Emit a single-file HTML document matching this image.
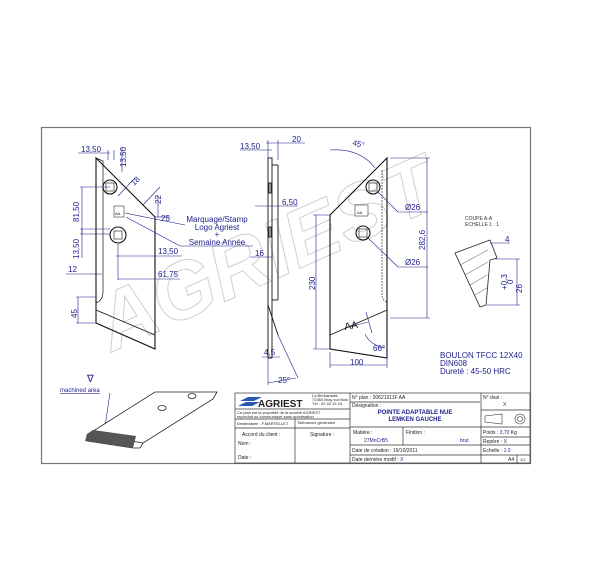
<!DOCTYPE html>
<html><head><meta charset="utf-8"><style>
html,body{margin:0;padding:0;background:#fff;width:600px;height:588px;overflow:hidden}
svg{display:block}
text{font-family:"Liberation Sans",sans-serif}
.d{fill:#1c1c8a;font-size:8px}
.t{fill:#1c1c8a;font-size:4px}
.k{fill:#222;font-size:4px}
</style></head><body>
<svg width="600" height="588" viewBox="0 0 600 588" xmlns="http://www.w3.org/2000/svg">
<rect x="41.5" y="127.5" width="489" height="336" fill="none" stroke="#777" stroke-width="1.2"/>
<!-- watermark -->
<text x="112" y="352" transform="rotate(-24 112 352)" font-size="80" font-style="italic" font-weight="bold" fill="none" stroke="#cfcfcf" stroke-width="1" letter-spacing="1">AGRIEST</text>

<!-- LEFT VIEW -->
<g stroke="#111" fill="none" stroke-width="1.1">
<polygon points="96,158 155,217 155,349 96,323"/>
<path d="M96,158 L103,161 L103,292 Q103,300 96,303" stroke-width="0.7"/>
<line x1="96" y1="310" x2="155" y2="335" stroke-width="0.8"/>
<circle cx="110" cy="187" r="7"/><rect x="106" y="183" width="8" height="8" stroke-width="0.6"/>
<circle cx="118" cy="235" r="8"/><rect x="114" y="231" width="8" height="8" stroke-width="0.6"/>
</g>
<rect x="114" y="206" width="10" height="11" fill="#fff" stroke="#333" stroke-width="0.6"/>
<text x="115" y="215" font-size="4" fill="#111">AA</text>
<g stroke="#1c1c8a" fill="none" stroke-width="0.6">
<line x1="78" y1="153" x2="110" y2="153"/><line x1="108" y1="150" x2="108" y2="160"/><line x1="114" y1="150" x2="114" y2="160"/>
<line x1="122" y1="148" x2="122" y2="172"/>
<line x1="118" y1="196" x2="135" y2="178"/><line x1="143" y1="205" x2="160" y2="187"/>
<line x1="155" y1="217" x2="170" y2="217"/><line x1="158" y1="195" x2="158" y2="217"/>
<line x1="125" y1="213" x2="185" y2="225"/>
<line x1="126" y1="217" x2="180" y2="246"/><line x1="180" y1="246" x2="253" y2="246"/>
<line x1="80" y1="187" x2="110" y2="187"/><line x1="80" y1="234" x2="110" y2="234"/><line x1="82" y1="187" x2="82" y2="234"/>
<line x1="80" y1="229" x2="110" y2="229"/><line x1="82" y1="229" x2="82" y2="258"/>
<line x1="66" y1="274" x2="102" y2="274"/>
<line x1="116" y1="256" x2="182" y2="256"/><line x1="118" y1="244" x2="118" y2="280"/>
<line x1="118" y1="279" x2="180" y2="279"/>
<line x1="76" y1="297" x2="96" y2="297"/><line x1="76" y1="323" x2="96" y2="323"/><line x1="78" y1="297" x2="78" y2="323"/>
</g>
<text class="d" x="81" y="152">13,50</text>
<text class="d" transform="translate(126,167) rotate(-90)">13,50</text>
<text class="d" transform="translate(134,186) rotate(-45)">18</text>
<text class="d" transform="translate(161,204) rotate(-90)">22</text>
<text class="d" x="161" y="221">25</text>
<text class="d" transform="translate(79,222) rotate(-90)">81,50</text>
<text class="d" transform="translate(79,259) rotate(-90)">13,50</text>
<text class="d" x="68" y="272">12</text>
<text class="d" transform="translate(77,318) rotate(-90)">45</text>
<text class="d" x="158" y="254">13,50</text>
<text class="d" x="158" y="277">61,75</text>
<text class="d" x="217" y="222" text-anchor="middle">Marquage/Stamp</text>
<text class="d" x="217" y="230" text-anchor="middle">Logo Agriest</text>
<text class="d" x="217" y="237" text-anchor="middle">+</text>
<text class="d" x="217" y="245" text-anchor="middle">Semaine Année</text>

<!-- SIDE VIEW -->
<g stroke="#111" fill="none" stroke-width="0.9">
<rect x="268" y="158" width="4" height="200"/>
<line x1="272" y1="165" x2="278" y2="165"/><line x1="278" y1="165" x2="278" y2="300"/><line x1="272" y1="300" x2="278" y2="300"/>
<rect x="269" y="183" width="2" height="10"/><rect x="269" y="227" width="2" height="10"/>
<line x1="268" y1="305" x2="278" y2="335"/>
</g>
<g stroke="#1c1c8a" fill="none" stroke-width="0.6">
<line x1="268" y1="140" x2="268" y2="158"/><line x1="278" y1="140" x2="278" y2="160"/><line x1="266" y1="143" x2="305" y2="143"/>
<line x1="240" y1="150" x2="272" y2="150"/>
<line x1="255" y1="206" x2="298" y2="206"/><line x1="250" y1="257" x2="272" y2="257"/>
<line x1="262" y1="357" x2="280" y2="357"/>
<line x1="268" y1="358" x2="268" y2="385"/><line x1="268" y1="383" x2="296" y2="378"/><line x1="278" y1="335" x2="298" y2="378"/>
</g>
<text class="d" x="292" y="142">20</text>
<text class="d" x="240" y="149">13,50</text>
<text class="d" x="282" y="205">6,50</text>
<text class="d" x="255" y="256">16</text>
<text class="d" x="264" y="355">4,5</text>
<text class="d" x="278" y="383">25°</text>

<!-- RIGHT VIEW -->
<g stroke="#111" fill="none" stroke-width="1.1">
<polygon points="330,215 387,158 387,358 330,349"/>
<path d="M382,170 L382,295 Q382,300 387,302" stroke-width="0.6" stroke-dasharray="2,1"/>
<line x1="330" y1="335" x2="387" y2="310" stroke-width="0.8"/>
<circle cx="373" cy="187" r="7"/><rect x="369" y="183" width="8" height="8" stroke-width="0.6"/>
<circle cx="363" cy="233" r="7"/><rect x="359" y="229" width="8" height="8" stroke-width="0.6"/>
</g>
<rect x="355" y="205" width="13" height="11" fill="#fff" stroke="#333" stroke-width="0.6"/>
<text x="357" y="214" font-size="4" fill="#111">AA</text>
<g stroke="#1c1c8a" fill="none" stroke-width="0.6">
<path d="M330,150 Q360,148 375,168"/>
<line x1="378" y1="192" x2="398" y2="212"/><line x1="398" y1="212" x2="428" y2="212"/>
<line x1="367" y1="237" x2="398" y2="267"/><line x1="398" y1="267" x2="428" y2="267"/>
<line x1="390" y1="158" x2="430" y2="158"/><line x1="390" y1="318" x2="430" y2="318"/><line x1="427" y1="158" x2="427" y2="318"/>
<line x1="313" y1="215" x2="330" y2="215"/><line x1="313" y1="349" x2="330" y2="349"/><line x1="316" y1="215" x2="316" y2="349"/>
<line x1="330" y1="352" x2="330" y2="368"/><line x1="387" y1="352" x2="387" y2="368"/><line x1="330" y1="365" x2="387" y2="365"/>
<line x1="345" y1="328" x2="368" y2="322"/><line x1="366" y1="312" x2="372" y2="333"/>
<path d="M365,334 Q370,345 385,348"/>
</g>
<text class="d" x="352" y="145" transform="rotate(15 352 145)">45°</text>
<text class="d" x="405" y="210">Ø26</text>
<text class="d" x="405" y="265">Ø26</text>
<text class="d" transform="translate(425,250) rotate(-90)">282,6</text>
<text class="d" transform="translate(315,290) rotate(-90)">230</text>
<text x="345" y="330" font-size="10" fill="#111" transform="rotate(-10 345 330)">AA</text>
<text class="d" x="373" y="351">66°</text>
<text class="d" x="350" y="365">100</text>
<text x="465" y="220" font-size="5" fill="#333">COUPE A-A</text>
<text x="465" y="226" font-size="5" fill="#333">ECHELLE 1 : 1</text>
<g stroke="#222" fill="none" stroke-width="0.8">
<polygon points="455,253 490,240 497,258 490,260 486,305 480,307"/>
<line x1="460" y1="265" x2="488" y2="250" stroke-width="0.4"/><line x1="465" y1="275" x2="488" y2="262" stroke-width="0.4"/>
<line x1="470" y1="285" x2="487" y2="275" stroke-width="0.4"/><line x1="475" y1="295" x2="487" y2="288" stroke-width="0.4"/>
</g>
<g stroke="#1c1c8a" fill="none" stroke-width="0.6">
<line x1="490" y1="243" x2="510" y2="243"/><line x1="495" y1="259" x2="520" y2="259"/><line x1="487" y1="305" x2="520" y2="305"/><line x1="517" y1="259" x2="517" y2="305"/>
</g>
<text class="d" x="505" y="242">4</text>
<text class="d" transform="translate(507,290) rotate(-90)" font-size="7">+0,3</text>
<text class="d" transform="translate(513,284) rotate(-90)" font-size="7">0</text>
<text class="d" transform="translate(522,293) rotate(-90)">26</text>
<text class="d" x="440" y="358">BOULON TFCC 12X40</text>
<text class="d" x="440" y="366">DIN608</text>
<text class="d" x="440" y="374">Dureté : 45-50 HRC</text>

<!-- ISO -->
<text x="87" y="382" font-size="10" fill="#1c1c8a">∇</text>
<text x="60" y="392" font-size="6" fill="#1c1c8a" text-decoration="underline">machined area</text>
<line x1="110" y1="393" x2="103" y2="440" stroke="#1c1c8a" stroke-width="0.6"/>
<g stroke="#222" fill="#fff" stroke-width="0.8">
<polygon points="87,435 155,392 217,392 213,399 143,443 140,448 133,448 87,441"/>
<line x1="93" y1="434" x2="143" y2="443"/>
<ellipse cx="162" cy="408" rx="4" ry="2.5"/><ellipse cx="192" cy="396" rx="4" ry="2.5"/>
</g>
<polygon points="87,434 93,430 136,436 133,448 85,441" fill="#555"/>

<!-- TITLE BLOCK -->
<g stroke="#333" fill="none" stroke-width="0.7">
<rect x="235" y="393" width="295" height="70"/>
<line x1="235" y1="409" x2="350" y2="409"/><line x1="235" y1="419" x2="350" y2="419"/><line x1="235" y1="428" x2="350" y2="428"/>
<line x1="295" y1="419" x2="295" y2="463"/><line x1="350" y1="393" x2="350" y2="463"/>
<line x1="350" y1="402" x2="480" y2="402"/><line x1="350" y1="427" x2="530" y2="427"/>
<line x1="403" y1="427" x2="403" y2="445"/><line x1="350" y1="445" x2="530" y2="445"/><line x1="350" y1="455" x2="530" y2="455"/>
<line x1="481" y1="393" x2="481" y2="463"/><line x1="481" y1="410" x2="530" y2="410"/><line x1="481" y1="437" x2="530" y2="437"/>
<line x1="517" y1="455" x2="517" y2="463"/>
</g>
<polygon points="240,401 248,397 262,397 254,401" fill="#2a5ab0"/>
<polygon points="238,406 246,402 260,402 252,406" fill="#2a5ab0"/>
<text x="258" y="407" font-size="10" font-weight="bold" fill="#222">AGRIEST</text>
<text class="k" x="312" y="397">La Berbansais</text><text class="k" x="312" y="401">72360 Bray sur Bois</text><text class="k" x="312" y="405">Tél : 02 43 19 24</text>
<text class="k" x="237" y="414">Ce plan est la propriété de la société AGRIEST</text><text class="k" x="237" y="418">reproduit ou communiqué sans autorisation</text>
<text class="k" x="237" y="425">Destinataire : F.MARTELLET</text><text class="k" x="297" y="424">Tolérances générales</text>
<text x="242" y="436" font-size="5" fill="#222">Accord du client :</text>
<text x="310" y="436" font-size="5" fill="#222">Signature :</text>
<text x="238" y="445" font-size="5" fill="#222">Nom :</text>
<text x="238" y="459" font-size="5" fill="#222">Date :</text>
<text x="352" y="399" font-size="5" fill="#222">N° plan : 20621311F AA</text>
<text x="352" y="407" font-size="5" fill="#222">Désignation :</text>
<text x="415" y="414" font-size="6" font-weight="bold" fill="#1c1c8a" text-anchor="middle">POINTE ADAPTABLE NUE</text>
<text x="415" y="421" font-size="6" font-weight="bold" fill="#1c1c8a" text-anchor="middle">LEMKEN GAUCHE</text>
<text x="353" y="434" font-size="5" fill="#222">Matière :</text><text x="364" y="442" font-size="5" fill="#1c1c8a">27MnCrB5</text>
<text x="406" y="434" font-size="5" fill="#222">Finition :</text><text x="460" y="442" font-size="5" fill="#1c1c8a">brut</text>
<text x="352" y="452" font-size="5" fill="#222">Date de création : 19/10/2011</text>
<text x="352" y="461" font-size="5" fill="#222">Date dernière modif : <tspan fill="#1c1c8a">X</tspan></text>
<text x="483" y="399" font-size="5" fill="#222">N° dval :</text><text x="503" y="406" font-size="5" fill="#1c1c8a">X</text>
<g stroke="#333" fill="none" stroke-width="0.6"><polygon points="485,416 502,414 502,424 485,422"/><circle cx="520" cy="419" r="5"/><circle cx="520" cy="419" r="2.5"/></g>
<text x="483" y="434" font-size="5" fill="#222">Poids : <tspan fill="#1c1c8a">3,70</tspan> Kg</text>
<text x="483" y="443" font-size="5" fill="#222">Repère : <tspan fill="#1c1c8a">X</tspan></text>
<text x="483" y="452" font-size="5" fill="#222">Echelle : <tspan fill="#1c1c8a">1:3</tspan></text>
<text x="508" y="461" font-size="5" fill="#222">A4</text><text x="520" y="461" font-size="4" fill="#222">1/1</text>
</svg>
</body></html>
